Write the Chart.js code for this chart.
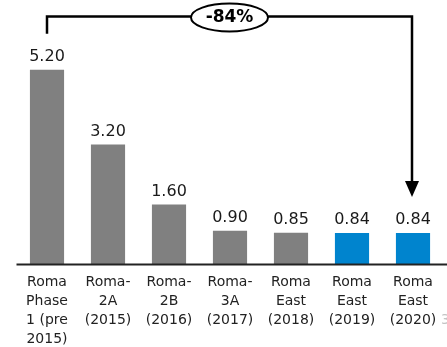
<!DOCTYPE html>
<html>
<head>
<meta charset="utf-8">
<script src="https://cdn.jsdelivr.net/npm/chart.js@4/dist/chart.umd.min.js"></script>
<style>
    html, body { margin: 0; padding: 0; background: #fff; }
    #wrap { width: 447px; height: 347px; position: relative; }
</style>
</head>
<body>
<div id="wrap"><canvas id="chart"></canvas></div>
<script>
// Cost per project phase
const projectLabels = [
    ['Roma', 'Phase', '1 (pre', '2015)'],
    ['Roma-', '2A', '(2015)'],
    ['Roma-', '2B', '(2016)'],
    ['Roma-', '3A', '(2017)'],
    ['Roma', 'East', '(2018)'],
    ['Roma', 'East', '(2019)'],
    ['Roma', 'East', '(2020)']
];
const costValues = [5.20, 3.20, 1.60, 0.90, 0.85, 0.84, 0.84];
// phases from this index on are the current ones (blue)
const currentFrom = 5;

const GREY = '#808080';
const BLUE = '#0084CE';
const FONT = "'DejaVu Sans', sans-serif";

/**
 * Value labels, baseline, and the bracket showing the overall change
 */
const annotations = {
    id: 'annotations',
    afterDatasetsDraw(chart) {
        const ctx = chart.ctx;
        const area = chart.chartArea;
        const meta = chart.getDatasetMeta(0);

        // value above each bar
        ctx.save();
        ctx.font = '16px ' + FONT;
        ctx.fillStyle = '#1a1a1a';
        ctx.textAlign = 'center';
        ctx.textBaseline = 'alphabetic';
        meta.data.forEach((bar, i) => {
            ctx.fillText(costValues[i].toFixed(2), bar.x, bar.y - 9);
        });

        // axis line running out to the right edge
        ctx.strokeStyle = '#222';
        ctx.lineWidth = 2;
        ctx.beginPath();
        ctx.moveTo(area.left, area.bottom);
        ctx.lineTo(chart.width, area.bottom);
        ctx.stroke();

        // bracket from first to last bar
        const first = meta.data[0];
        const last = meta.data[meta.data.length - 1];
        const topY = 16.5;
        const startY = first.y - 36;
        const tipY = last.y - 36;
        const x1 = first.x;
        const x2 = last.x - 1;

        ctx.strokeStyle = '#000';
        ctx.lineWidth = 2.5;
        ctx.beginPath();
        ctx.moveTo(x1, startY);
        ctx.lineTo(x1, topY);
        ctx.lineTo(x2, topY);
        ctx.lineTo(x2, tipY - 15);
        ctx.stroke();

        ctx.fillStyle = '#000';
        ctx.beginPath();
        ctx.moveTo(x2 - 7, tipY - 16);
        ctx.lineTo(x2 + 7, tipY - 16);
        ctx.lineTo(x2, tipY);
        ctx.closePath();
        ctx.fill();

        // change badge
        const change = (costValues[costValues.length - 1] - costValues[0]) / costValues[0];
        const cx = (x1 + x2) / 2;
        ctx.fillStyle = '#fff';
        ctx.lineWidth = 2;
        ctx.beginPath();
        ctx.ellipse(cx, topY + 1, 38.5, 14, 0, 0, Math.PI * 2);
        ctx.fill();
        ctx.stroke();

        ctx.fillStyle = '#000';
        ctx.font = 'bold 17px ' + FONT;
        ctx.textBaseline = 'middle';
        ctx.fillText(Math.round(change * 100) + '%', cx, topY + 1.5);

        // footnote marker cut off at the edge
        ctx.fillStyle = '#c4c4c4';
        ctx.font = '14px ' + FONT;
        ctx.textAlign = 'left';
        ctx.textBaseline = 'middle';
        ctx.fillText('3', 441, 320);
        ctx.restore();
    }
};

new Chart(document.getElementById('chart'), {
    type: 'bar',
    data: {
        labels: projectLabels,
        datasets: [{
            data: costValues,
            backgroundColor: costValues.map((v, i) => i >= currentFrom ? BLUE : GREY),
            borderWidth: 0,
            barPercentage: 0.56,
            categoryPercentage: 1.0
        }]
    },
    options: {
        responsive: true,
        maintainAspectRatio: false,
        animation: false,
        layout: { padding: { top: 21, left: 16.5, right: 3.5, bottom: 0 } },
        plugins: {
            legend: { display: false },
            tooltip: { enabled: false }
        },
        scales: {
            x: {
                grid: { display: false },
                border: { display: false },
                ticks: {
                    color: '#222',
                    padding: 1,
                    maxRotation: 0,
                    autoSkip: false,
                    font: { family: FONT, size: 14, lineHeight: 18.7 / 14 }
                },
                afterFit(scale) { scale.height = 82.5; }
            },
            y: {
                display: false,
                min: 0,
                max: 6.5
            }
        }
    },
    plugins: [annotations]
});
</script>
</body>
</html>
